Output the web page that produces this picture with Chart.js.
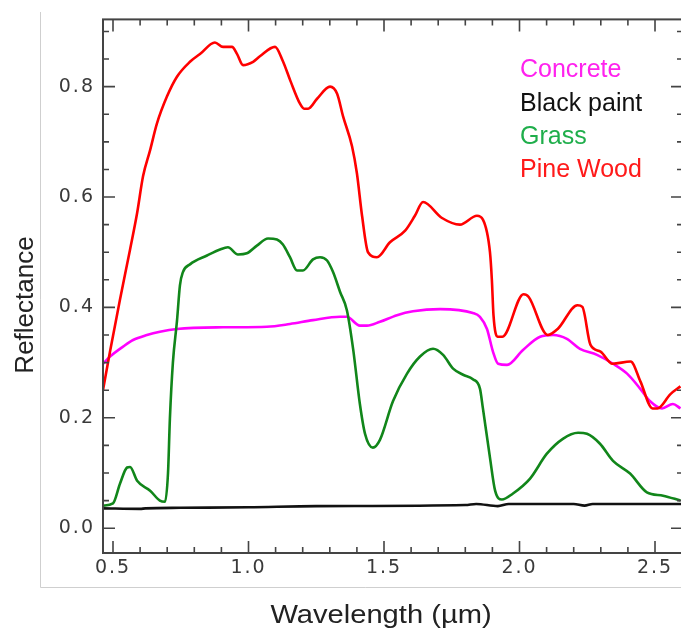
<!DOCTYPE html>
<html>
<head>
<meta charset="utf-8">
<title>Spectral reflectance</title>
<script src="https://cdn.jsdelivr.net/npm/chart.js@4.4.0/dist/chart.umd.min.js"></script>
<style>
  html, body { margin: 0; padding: 0; background: #fff; overflow: hidden; }
  #wrap { width: 681px; height: 629px; overflow: hidden; }
  canvas { display: block; }
</style>
</head>
<body>
<div id="wrap"><canvas id="reflChart" width="690" height="629"></canvas></div>
<script>
// Series names (legend order)
const seriesNames = ['Concrete', 'Black paint', 'Grass', 'Pine Wood'];

// Concrete
const concreteWl = [0.463, 0.489, 0.537, 0.574, 0.625, 0.673, 0.736, 0.906, 1.068, 1.153, 1.238, 1.338, 1.363, 1.411, 1.437, 1.485, 1.548, 1.607, 1.707, 1.828, 1.854, 1.880, 1.902, 1.921, 1.954, 2.013, 2.076, 2.124, 2.175, 2.223, 2.286, 2.345, 2.397, 2.445, 2.482, 2.526, 2.566, 2.594];
const concreteRefl = [0.298, 0.311, 0.329, 0.341, 0.350, 0.356, 0.361, 0.364, 0.365, 0.370, 0.377, 0.383, 0.383, 0.367, 0.367, 0.374, 0.386, 0.393, 0.397, 0.390, 0.383, 0.361, 0.320, 0.298, 0.296, 0.323, 0.347, 0.350, 0.343, 0.325, 0.314, 0.298, 0.280, 0.253, 0.230, 0.217, 0.225, 0.217];

// Black paint
const blackWl = [0.463, 0.60, 0.62, 0.75, 1.0, 1.25, 1.8, 1.84, 1.92, 1.96, 2.2, 2.24, 2.27, 2.6];
const blackRefl = [0.036, 0.035, 0.036, 0.037, 0.038, 0.040, 0.042, 0.044, 0.040, 0.044, 0.044, 0.041, 0.044, 0.044];

// Grass
const grassWl = [0.463, 0.50, 0.526, 0.552, 0.563, 0.589, 0.637, 0.673, 0.692, 0.703, 0.710, 0.721, 0.736, 0.747, 0.758, 0.784, 0.847, 0.895, 0.924, 0.961, 0.994, 1.031, 1.072, 1.105, 1.127, 1.153, 1.179, 1.201, 1.238, 1.264, 1.290, 1.312, 1.338, 1.363, 1.386, 1.411, 1.430, 1.459, 1.485, 1.533, 1.585, 1.633, 1.681, 1.718, 1.755, 1.792, 1.828, 1.854, 1.865, 1.891, 1.910, 1.935, 1.976, 2.039, 2.101, 2.160, 2.216, 2.249, 2.297, 2.345, 2.408, 2.470, 2.530, 2.594];
const grassRefl = [0.041, 0.045, 0.081, 0.110, 0.111, 0.086, 0.068, 0.050, 0.048, 0.100, 0.199, 0.300, 0.375, 0.440, 0.464, 0.478, 0.494, 0.505, 0.509, 0.496, 0.498, 0.512, 0.525, 0.523, 0.514, 0.491, 0.467, 0.467, 0.487, 0.491, 0.485, 0.464, 0.428, 0.395, 0.325, 0.225, 0.171, 0.146, 0.160, 0.230, 0.280, 0.311, 0.325, 0.314, 0.289, 0.278, 0.270, 0.253, 0.217, 0.128, 0.068, 0.052, 0.063, 0.090, 0.135, 0.162, 0.173, 0.171, 0.153, 0.122, 0.099, 0.065, 0.059, 0.050];

// Pine Wood
const pineWl = [0.463, 0.489, 0.526, 0.563, 0.589, 0.611, 0.637, 0.662, 0.699, 0.736, 0.784, 0.821, 0.876, 0.906, 0.939, 0.958, 0.980, 1.017, 1.042, 1.098, 1.127, 1.155, 1.190, 1.205, 1.220, 1.253, 1.301, 1.327, 1.349, 1.382, 1.400, 1.419, 1.441, 1.474, 1.522, 1.578, 1.614, 1.644, 1.714, 1.780, 1.843, 1.865, 1.891, 1.898, 1.904, 1.919, 1.937, 2.015, 2.034, 2.104, 2.141, 2.214, 2.232, 2.262, 2.299, 2.343, 2.410, 2.446, 2.491, 2.509, 2.557, 2.594];
const pineRefl = [0.250, 0.320, 0.415, 0.505, 0.571, 0.638, 0.685, 0.733, 0.782, 0.818, 0.845, 0.859, 0.880, 0.872, 0.872, 0.859, 0.839, 0.845, 0.855, 0.872, 0.846, 0.810, 0.769, 0.760, 0.760, 0.778, 0.800, 0.787, 0.746, 0.692, 0.643, 0.566, 0.500, 0.491, 0.518, 0.539, 0.566, 0.591, 0.562, 0.550, 0.566, 0.559, 0.500, 0.450, 0.386, 0.347, 0.347, 0.424, 0.419, 0.350, 0.361, 0.404, 0.401, 0.332, 0.320, 0.298, 0.302, 0.266, 0.217, 0.217, 0.243, 0.257];

// Axis tick labels
const xTickLabels = ['0.5', '1.0', '1.5', '2.0', '2.5'];
const yTickLabels = ['0.0', '0.2', '0.4', '0.6', '0.8'];

function toPoints(xs, ys) {
  return xs.map((x, i) => ({ x: x, y: ys[i] }));
}

const lineColors = ['#ff00ff', '#111111', '#11861a', '#ff0000'];
const legendColors = ['#ff22ee', '#111111', '#1fae4b', '#ff1a1a'];

// box, inward ticks, axis titles and the in-plot legend
const framePlugin = {
  id: 'framePlugin',
  beforeDraw(chart) {
    const ctx = chart.ctx;
    ctx.save();
    ctx.strokeStyle = '#cfcfcf';
    ctx.lineWidth = 1;
    ctx.beginPath();
    ctx.moveTo(40.5, 12);
    ctx.lineTo(40.5, 587.5);
    ctx.lineTo(chart.width, 587.5);
    ctx.stroke();
    ctx.restore();
    ctx.letterSpacing = '2px';
  },
  beforeDatasetsDraw(chart) {
    chart.ctx.letterSpacing = '0px';
  },
  afterDraw(chart) {
    const ctx = chart.ctx;
    const a = chart.chartArea;
    const x = chart.scales.x, y = chart.scales.y;
    ctx.save();
    ctx.strokeStyle = '#444';
    ctx.lineWidth = 2;
    ctx.strokeRect(a.left, a.top, a.right - a.left, a.bottom - a.top);

    ctx.lineWidth = 1.6;
    ctx.beginPath();
    for (let i = 5; i <= 26; i++) {
      const px = x.getPixelForValue(i / 10);
      const len = i % 5 === 0 ? 12 : 6;
      ctx.moveTo(px, a.bottom); ctx.lineTo(px, a.bottom - len);
      ctx.moveTo(px, a.top); ctx.lineTo(px, a.top + len);
    }
    for (let i = 0; i <= 18; i++) {
      const py = y.getPixelForValue(i * 0.05);
      const len = i % 4 === 0 ? 12 : 6;
      ctx.moveTo(a.left, py); ctx.lineTo(a.left + len, py);
      ctx.moveTo(a.right, py); ctx.lineTo(a.right - len, py);
    }
    ctx.stroke();

    // axis titles
    ctx.fillStyle = '#222';
    ctx.font = '26px "Liberation Sans", Arial, sans-serif';
    ctx.textAlign = 'center';
    ctx.textBaseline = 'alphabetic';
    ctx.save();
    ctx.translate(381, 623);
    ctx.scale(1.12, 1);
    ctx.fillText('Wavelength (\u00b5m)', 0, 0);
    ctx.restore();
    ctx.save();
    ctx.translate(33, 305);
    ctx.rotate(-Math.PI / 2);
    ctx.fillText('Reflectance', 0, 0);
    ctx.restore();

    // legend
    ctx.font = '25px "Liberation Sans", Arial, sans-serif';
    ctx.textAlign = 'left';
    const baselines = [77, 111, 144, 177];
    seriesNames.forEach((name, i) => {
      ctx.fillStyle = legendColors[i];
      ctx.fillText(name, 520, baselines[i]);
    });
    ctx.restore();
  }
};

const seriesData = [
  toPoints(concreteWl, concreteRefl),
  toPoints(blackWl, blackRefl),
  toPoints(grassWl, grassRefl),
  toPoints(pineWl, pineRefl)
];
const drawOrder = [2, 3, 1, 0];

const tickFont = { family: '"DejaVu Sans", sans-serif', size: 19 };

const ctx = document.getElementById('reflChart').getContext('2d');
new Chart(ctx, {
  type: 'line',
  data: {
    datasets: seriesNames.map((name, i) => ({
      label: name,
      data: seriesData[i],
      borderColor: lineColors[i],
      borderWidth: 2.6,
      pointRadius: 0,
      cubicInterpolationMode: 'monotone',
      fill: false,
      order: drawOrder[i]
    }))
  },
  options: {
    responsive: false,
    animation: false,
    layout: { padding: { left: 0, top: 15, right: 7, bottom: 0 } },
    plugins: {
      legend: { display: false },
      tooltip: { enabled: false }
    },
    scales: {
      x: {
        type: 'linear',
        min: 0.4631,
        max: 2.6033,
        grid: { display: false, drawTicks: false },
        border: { display: false },
        afterFit: function (scale) { scale.height = 76; },
        ticks: {
          stepSize: 0.5,
          includeBounds: false,
          padding: 4,
          color: '#3a3a3a',
          font: tickFont,
          maxRotation: 0,
          callback: function (value) {
            const idx = xTickLabels.indexOf(value.toFixed(1));
            return idx >= 0 ? xTickLabels[idx] : '';
          }
        }
      },
      y: {
        type: 'linear',
        min: -0.0449,
        max: 0.9218,
        grid: { display: false, drawTicks: false },
        border: { display: false },
        afterFit: function (scale) { scale.width = 103; },
        ticks: {
          stepSize: 0.2,
          includeBounds: false,
          padding: 8,
          color: '#3a3a3a',
          font: tickFont,
          callback: function (value) {
            const idx = yTickLabels.indexOf(value.toFixed(1));
            return idx >= 0 ? yTickLabels[idx] : '';
          }
        }
      }
    }
  },
  plugins: [framePlugin]
});
</script>
</body>
</html>
